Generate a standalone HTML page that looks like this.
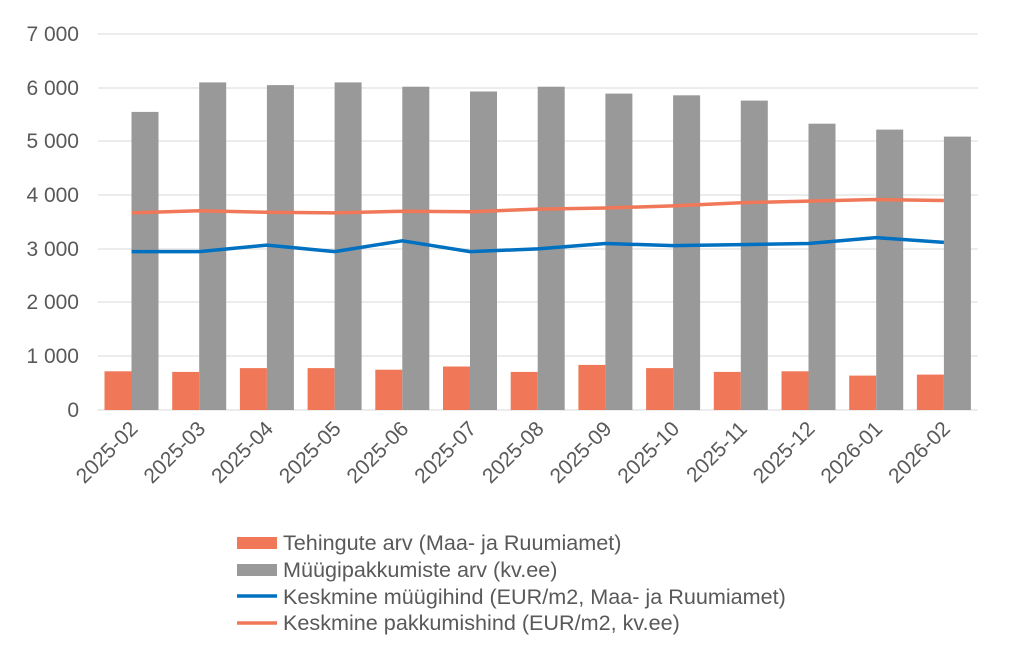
<!DOCTYPE html>
<html><head><meta charset="utf-8"><style>
body{margin:0;background:#fff;}
svg text{font-family:"Liberation Sans",Arial,sans-serif;fill:#595959;}
</style></head><body>
<svg width="1024" height="643" viewBox="0 0 1024 643" xmlns="http://www.w3.org/2000/svg">
<g stroke="#d9d9d9" stroke-width="1">
<line x1="98" y1="34" x2="978" y2="34"/><line x1="98" y1="88" x2="978" y2="88"/>
<line x1="98" y1="141" x2="978" y2="141"/><line x1="98" y1="195" x2="978" y2="195"/>
<line x1="98" y1="249" x2="978" y2="249"/><line x1="98" y1="302" x2="978" y2="302"/>
<line x1="98" y1="356" x2="978" y2="356"/><line x1="98" y1="410" x2="978" y2="410"/>
</g>
<g font-size="21" text-anchor="end">
<text x="79" y="417">0</text><text x="79" y="363">1 000</text><text x="79" y="309">2 000</text>
<text x="79" y="256">3 000</text><text x="79" y="202">4 000</text><text x="79" y="148">5 000</text>
<text x="79" y="95">6 000</text><text x="79" y="41">7 000</text>
</g>
<g fill="#f07858">
<rect x="104.5" y="371.3" width="27" height="38.7"/>
<rect x="172.2" y="371.9" width="27" height="38.1"/>
<rect x="239.9" y="368.1" width="27" height="41.9"/>
<rect x="307.6" y="368.1" width="27" height="41.9"/>
<rect x="375.3" y="369.7" width="27" height="40.3"/>
<rect x="443" y="366.5" width="27" height="43.5"/>
<rect x="510.7" y="371.9" width="27" height="38.1"/>
<rect x="578.4" y="364.9" width="27" height="45.1"/>
<rect x="646.1" y="368.1" width="27" height="41.9"/>
<rect x="713.8" y="371.9" width="27" height="38.1"/>
<rect x="781.5" y="371.3" width="27" height="38.7"/>
<rect x="849.2" y="375.6" width="27" height="34.4"/>
<rect x="916.9" y="374.6" width="27" height="35.4"/>
</g>
<g fill="#999">
<rect x="131.5" y="111.9" width="27" height="298.1"/>
<rect x="199.2" y="82.4" width="27" height="327.6"/>
<rect x="266.9" y="85.1" width="27" height="324.9"/>
<rect x="334.6" y="82.4" width="27" height="327.6"/>
<rect x="402.3" y="86.7" width="27" height="323.3"/>
<rect x="470" y="91.5" width="27" height="318.5"/>
<rect x="537.7" y="86.7" width="27" height="323.3"/>
<rect x="605.4" y="93.6" width="27" height="316.4"/>
<rect x="673.1" y="95.3" width="27" height="314.7"/>
<rect x="740.8" y="100.6" width="27" height="309.4"/>
<rect x="808.5" y="123.7" width="27" height="286.3"/>
<rect x="876.2" y="129.6" width="27" height="280.4"/>
<rect x="943.9" y="136.6" width="27" height="273.4"/>
</g>
<polyline fill="none" stroke="#0070c0" stroke-width="3.5" stroke-linejoin="round" points="131.5,251.6 199.2,251.6 266.9,245.1 334.6,251.6 402.3,240.8 470,251.6 537.7,248.9 605.4,243.5 673.1,245.6 740.8,244.6 808.5,243.5 876.2,237.6 943.9,242.4"/>
<polyline fill="none" stroke="#f07858" stroke-width="3.5" stroke-linejoin="round" points="131.5,212.9 199.2,210.7 266.9,212.3 334.6,212.9 402.3,211.3 470,211.8 537.7,209.1 605.4,208 673.1,205.9 740.8,202.7 808.5,201.1 876.2,199.5 943.9,200.5"/>
<g font-size="21" text-anchor="end">
<text transform="translate(139,430) rotate(-45)">2025-02</text>
<text transform="translate(206.7,430) rotate(-45)">2025-03</text>
<text transform="translate(274.4,430) rotate(-45)">2025-04</text>
<text transform="translate(342.1,430) rotate(-45)">2025-05</text>
<text transform="translate(409.8,430) rotate(-45)">2025-06</text>
<text transform="translate(477.5,430) rotate(-45)">2025-07</text>
<text transform="translate(545.2,430) rotate(-45)">2025-08</text>
<text transform="translate(612.9,430) rotate(-45)">2025-09</text>
<text transform="translate(680.6,430) rotate(-45)">2025-10</text>
<text transform="translate(748.3,430) rotate(-45)">2025-11</text>
<text transform="translate(816,430) rotate(-45)">2025-12</text>
<text transform="translate(883.7,430) rotate(-45)">2026-01</text>
<text transform="translate(951.4,430) rotate(-45)">2026-02</text>
</g>
<rect x="237" y="537" width="40" height="12" fill="#f07858"/>
<rect x="237" y="564" width="40" height="12" fill="#999"/>
<line x1="237" y1="596" x2="277" y2="596" stroke="#0070c0" stroke-width="3.5"/>
<line x1="237" y1="623" x2="277" y2="623" stroke="#f07858" stroke-width="3.5"/>
<g font-size="21.6">
<text x="283" y="550">Tehingute arv (Maa- ja Ruumiamet)</text>
<text x="283" y="577">Müügipakkumiste arv (kv.ee)</text>
<text x="283" y="604">Keskmine müügihind (EUR/m2, Maa- ja Ruumiamet)</text>
<text x="283" y="630">Keskmine pakkumishind (EUR/m2, kv.ee)</text>
</g>
</svg>
</body></html>
